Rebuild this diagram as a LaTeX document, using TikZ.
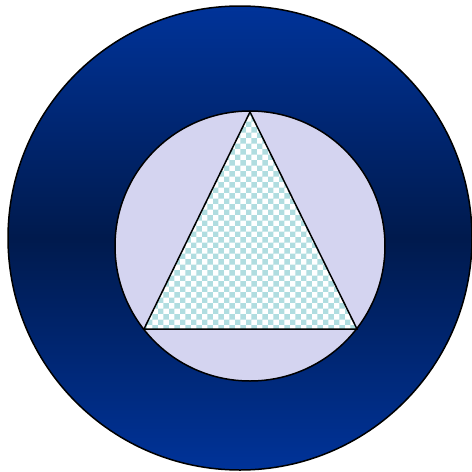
\documentclass[tikz,border=0pt]{standalone}
\usepackage{tikz}
\usetikzlibrary{patterns}
\usepackage{xcolor}
\definecolor{royal}{HTML}{003399}
\definecolor{deepnavy}{HTML}{001A4D}
\definecolor{lavender}{HTML}{D4D4F0}
\definecolor{teal}{HTML}{B0DDE0}

\begin{document}
\begin{tikzpicture}[x=1pt,y=-1pt]
        \useasboundingbox (0,0) rectangle (472,472);
        % outer ring
        \shade[top color=royal,bottom color=royal,middle color=deepnavy,draw=black,line width=1.5pt]
          (240,238) circle (232);
        % inner disc
        \fill[lavender,draw=black,line width=1.5pt] (250,246) circle (135);
        % triangle
        \fill[white] (250,112) -- (357,329) -- (144,329) -- cycle;
        \draw[line width=1.5pt,pattern=checkerboard,pattern color=teal]
          (250,112) -- (357,329) -- (144,329) -- cycle;
      \end{tikzpicture}
\end{document}
